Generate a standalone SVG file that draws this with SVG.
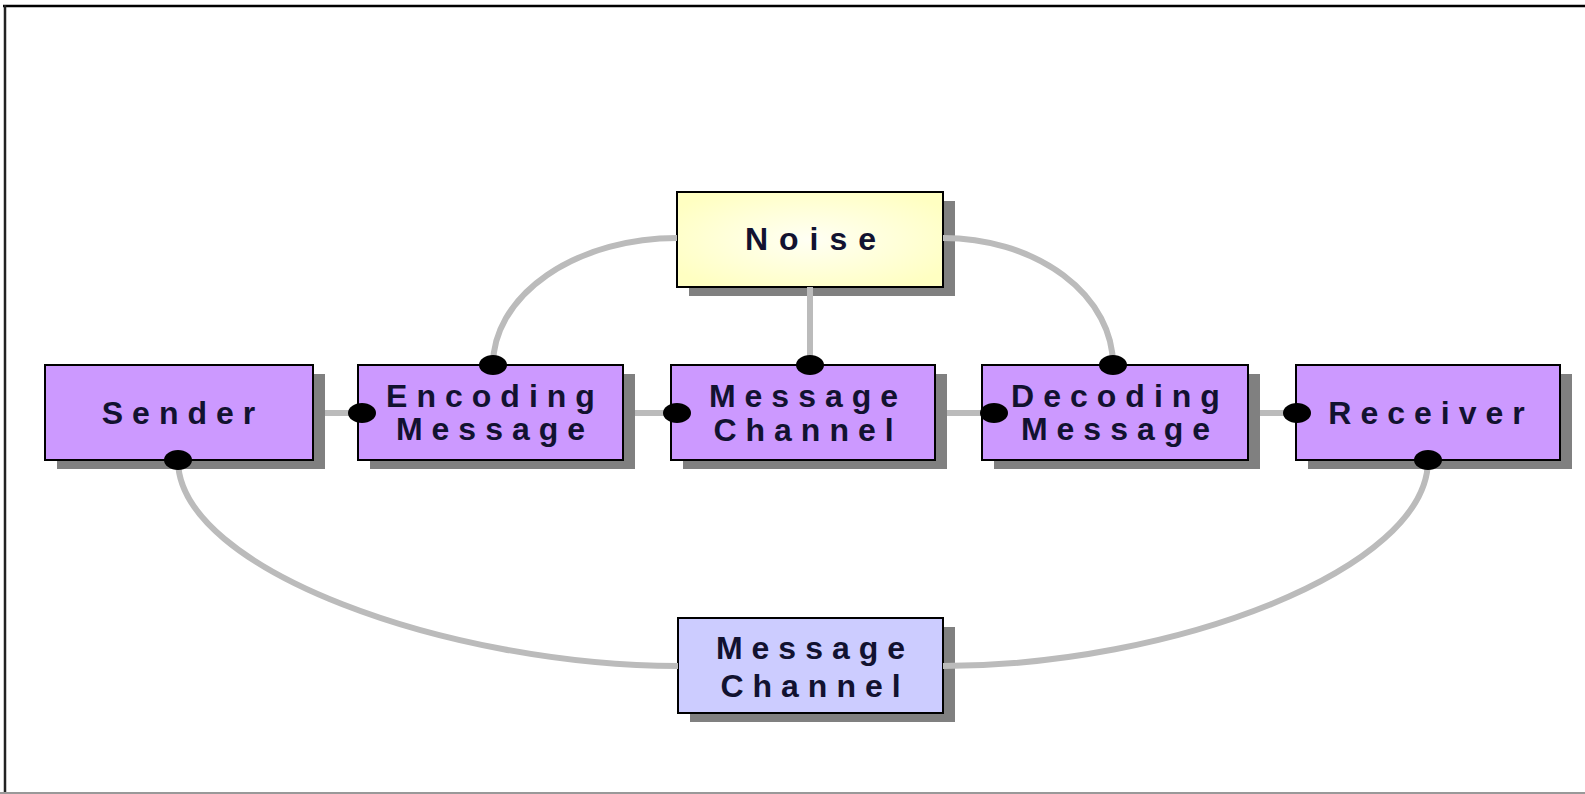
<svg xmlns="http://www.w3.org/2000/svg" width="1585" height="794" viewBox="0 0 1585 794">
<style>
.shadow{fill:#808080}
.box{stroke:#000;stroke-width:2}
.purple{fill:#cc99ff}
.lav{fill:#ccccff}
.lbl{font-family:"Liberation Sans",Arial,sans-serif;font-weight:bold;font-size:32px;letter-spacing:9px;fill:#121230;text-anchor:middle}
.conn{fill:none;stroke:#bbbbbb;stroke-width:6}
</style>
<defs>
<radialGradient id="noiseFill" cx="0.5" cy="0.5" r="0.6">
<stop offset="0" stop-color="#fffff4"/>
<stop offset="1" stop-color="#ffffc2"/>
</radialGradient>
<marker id="dot" markerUnits="userSpaceOnUse" markerWidth="30" markerHeight="22" refX="15" refY="11" orient="0" viewBox="0 0 30 22">
<ellipse cx="15" cy="11" rx="14" ry="10" fill="#000"/>
</marker>
</defs>
<rect width="1585" height="794" fill="#fff"/>
<g id="frame">
<line x1="3" y1="6" x2="1585" y2="6" stroke="#000" stroke-width="2.5"/>
<line x1="5" y1="5" x2="5" y2="794" stroke="#222" stroke-width="2.5"/>
<line x1="0" y1="793" x2="1585" y2="793" stroke="#999" stroke-width="2"/>
</g>
<g id="node-noise">
<rect class="shadow" x="689" y="201" width="266" height="95"/>
<rect class="box" x="677" y="192" width="266" height="95" fill="url(#noiseFill)"/>
<text class="lbl" x="816" y="250" style="letter-spacing:11px">Noise</text>
</g>
<g id="node-sender">
<rect class="shadow" x="57" y="374" width="268" height="95"/>
<rect class="box purple" x="45" y="365" width="268" height="95"/>
<text class="lbl" x="183" y="424">Sender</text>
</g>
<g id="node-encoding">
<rect class="shadow" x="370" y="374" width="265" height="95"/>
<rect class="box purple" x="358" y="365" width="265" height="95"/>
<text class="lbl" x="495" y="407">Encoding</text>
<text class="lbl" x="495" y="440">Message</text>
</g>
<g id="node-channel">
<rect class="shadow" x="683" y="374" width="264" height="95"/>
<rect class="box purple" x="671" y="365" width="264" height="95"/>
<text class="lbl" x="808" y="407">Message</text>
<text class="lbl" x="808" y="441">Channel</text>
</g>
<g id="node-decoding">
<rect class="shadow" x="994" y="374" width="266" height="95"/>
<rect class="box purple" x="982" y="365" width="266" height="95"/>
<text class="lbl" x="1120" y="407">Decoding</text>
<text class="lbl" x="1120" y="440">Message</text>
</g>
<g id="node-receiver">
<rect class="shadow" x="1308" y="374" width="264" height="95"/>
<rect class="box purple" x="1296" y="365" width="264" height="95"/>
<text class="lbl" x="1431" y="424">Receiver</text>
</g>
<g id="node-channel-bottom">
<rect class="shadow" x="690" y="627" width="265" height="95"/>
<rect class="box lav" x="678" y="618" width="265" height="95"/>
<text class="lbl" x="815" y="659">Message</text>
<text class="lbl" x="815" y="697">Channel</text>
</g>
<g id="connectors">
<path class="conn" d="M325,413 H362" marker-end="url(#dot)"/>
<path class="conn" d="M635,413 H677" marker-end="url(#dot)"/>
<path class="conn" d="M947,413 H994" marker-end="url(#dot)"/>
<path class="conn" d="M1260,413 H1297" marker-end="url(#dot)"/>
<path class="conn" d="M677,238 A184,127 0 0 0 493,365" marker-end="url(#dot)"/>
<path class="conn" d="M943,238 A170,127 0 0 1 1113,365" marker-end="url(#dot)"/>
<path class="conn" d="M810,287 V365" marker-end="url(#dot)"/>
<path class="conn" d="M178,460 C178,570 450,666 678,666" marker-start="url(#dot)"/>
<path class="conn" d="M943,666 C1171,666 1428,570 1428,460" marker-end="url(#dot)"/>
</g>
</svg>
